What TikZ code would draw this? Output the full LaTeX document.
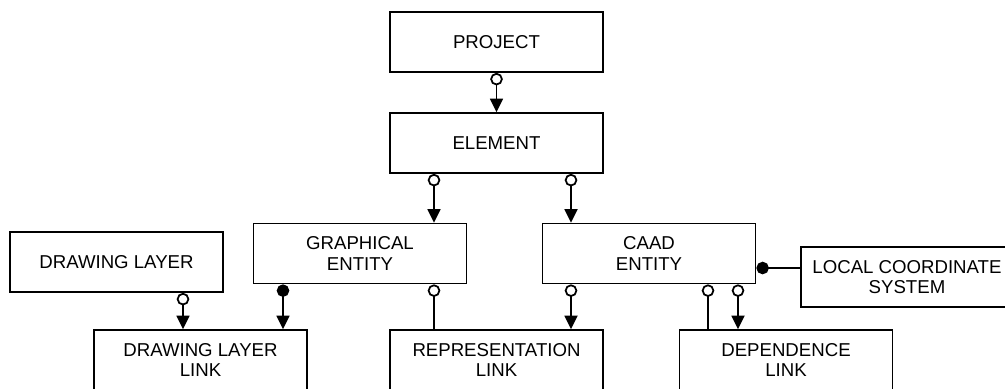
\documentclass[tikz,border=0pt]{standalone}
\usepackage{fontspec}
\setmainfont{Liberation Sans}
\usetikzlibrary{shapes.geometric, arrows.meta}

\begin{document}
\begin{tikzpicture}
			\tikzstyle{Entity} = [rectangle, minimum width=4.26cm, minimum height=1.2cm, align=center, draw=black, line width=1pt, fill=white, font=\fontsize{10.6}{11.8}\selectfont]
			\tikzstyle{optArrow} = [line width=1pt, {Circle[open,length=0.25cm,width=0.25cm]}-{Triangle[length=0.27cm,width=0.26cm]}]
			\tikzstyle{optLine} = [line width=1pt, {Circle[open,length=0.25cm,width=0.25cm]}-]
			\tikzstyle{reqArrow} = [line width=1pt, {Circle[length=0.25cm,width=0.25cm]}-{Triangle[length=0.27cm,width=0.26cm]}]
			\tikzstyle{reqLine} = [line width=1pt, {Circle[length=0.25cm,width=0.25cm]}-]
			
			\useasboundingbox (0,0) rectangle (20.1,-7.76);
			
			\node (projectNode) [Entity] at (9.93,-0.84) {PROJECT};
			\node (elementNode) [Entity] at (9.93,-2.86) {ELEMENT};
			\node (graphicalNode) [Entity] at (7.2,-5.07) {GRAPHICAL\\ENTITY};
			\node (caadNode) [Entity] at (12.98,-5.07) {CAAD\\ENTITY};
			\node (layerNode) [Entity] at (2.33,-5.24) {DRAWING LAYER};
			\node (localNode) [Entity, minimum width=4.24cm] at (18.14,-5.54) {LOCAL COORDINATE\\SYSTEM};
			\node (layerLinkNode) [Entity] at (4.01,-7.2) {DRAWING LAYER\\LINK};
			\node (reprLinkNode) [Entity] at (9.93,-7.2) {REPRESENTATION\\LINK};
			\node (depLinkNode) [Entity] at (15.72,-7.2) {DEPENDENCE\\LINK};
			
			\draw [optArrow] (projectNode.south) -- (elementNode.north);
			\draw [optArrow] ([xshift=-1.25cm]elementNode.south) -- ([xshift=-1.25cm]elementNode.south |- graphicalNode.north);
			\draw [optArrow] ([xshift=1.49cm]elementNode.south) -- ([xshift=1.49cm]elementNode.south |- caadNode.north);
			\draw [optArrow] ([xshift=1.33cm]layerNode.south) -- ([xshift=1.33cm]layerNode.south |- layerLinkNode.north);
			\draw [reqArrow] ([xshift=-1.54cm]graphicalNode.south) -- ([xshift=-1.54cm]graphicalNode.south |- layerLinkNode.north);
			\draw [optLine] ([xshift=1.48cm]graphicalNode.south) -- ([xshift=1.48cm]graphicalNode.south |- reprLinkNode.north);
			\draw [optArrow] ([xshift=-1.56cm]caadNode.south) -- ([xshift=-1.56cm]caadNode.south |- reprLinkNode.north);
			\draw [optLine] ([xshift=1.18cm]caadNode.south) -- ([xshift=1.18cm]caadNode.south |- depLinkNode.north);
			\draw [optArrow] ([xshift=1.78cm]caadNode.south) -- ([xshift=1.78cm]caadNode.south |- depLinkNode.north);
			\draw [reqLine] ([yshift=-0.29cm]caadNode.east) -- ([yshift=-0.29cm]caadNode.east -| localNode.west);
		\end{tikzpicture}
\end{document}
